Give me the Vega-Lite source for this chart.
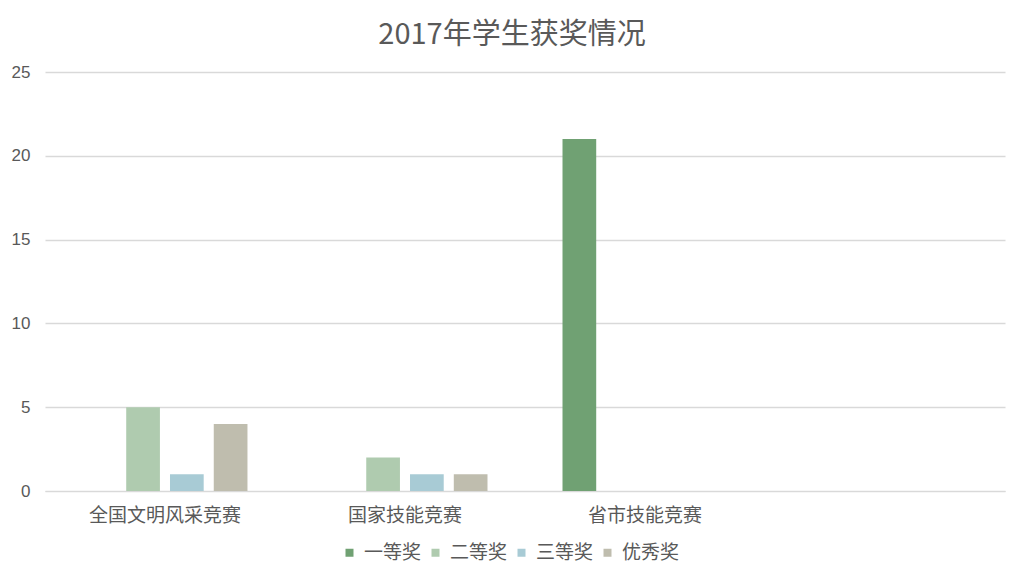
{
  "$schema": "https://vega.github.io/schema/vega-lite/v6.json",
  "width": 960,
  "height": 419,
  "autosize": {"type": "none"},
  "padding": {"left": 45, "top": 72, "right": 19, "bottom": 86},
  "background": "white",
  "title": {
    "text": "2017年学生获奖情况",
    "font": "Noto Sans CJK SC",
    "fontSize": 29,
    "fontWeight": "normal",
    "color": "#595959",
    "anchor": "middle",
    "dx": -13,
    "offset": 13
  },
  "data": {
    "values": [
      {"category": "全国文明风采竞赛", "award": "一等奖", "count": 0},
      {"category": "全国文明风采竞赛", "award": "二等奖", "count": 5},
      {"category": "全国文明风采竞赛", "award": "三等奖", "count": 1},
      {"category": "全国文明风采竞赛", "award": "优秀奖", "count": 4},
      {"category": "国家技能竞赛", "award": "一等奖", "count": 0},
      {"category": "国家技能竞赛", "award": "二等奖", "count": 2},
      {"category": "国家技能竞赛", "award": "三等奖", "count": 1},
      {"category": "国家技能竞赛", "award": "优秀奖", "count": 1},
      {"category": "省市技能竞赛", "award": "一等奖", "count": 21},
      {"category": "省市技能竞赛", "award": "二等奖", "count": 0},
      {"category": "省市技能竞赛", "award": "三等奖", "count": 0},
      {"category": "省市技能竞赛", "award": "优秀奖", "count": 0}
    ]
  },
  "mark": {"type": "bar"},
  "encoding": {
    "x": {
      "field": "category",
      "type": "nominal",
      "sort": null,
      "scale": {
        "domain": ["全国文明风采竞赛", "国家技能竞赛", "省市技能竞赛", " "],
        "paddingInner": 0.3125,
        "paddingOuter": 0.156
      },
      "axis": {
        "title": null,
        "labelAngle": 0,
        "ticks": false,
        "domainColor": "#d9d9d9",
        "labelFont": "Noto Sans CJK SC",
        "labelFontSize": 19,
        "labelColor": "#595959",
        "labelPadding": 15
      }
    },
    "xOffset": {
      "field": "award",
      "type": "nominal",
      "sort": ["一等奖", "二等奖", "三等奖", "优秀奖"],
      "scale": {"paddingInner": 0.23, "paddingOuter": 0}
    },
    "y": {
      "field": "count",
      "type": "quantitative",
      "scale": {"domain": [0, 25], "nice": false},
      "axis": {
        "title": null,
        "values": [0, 5, 10, 15, 20, 25],
        "domain": false,
        "ticks": false,
        "gridColor": "#d9d9d9",
        "gridWidth": 1.3,
        "labelFont": "Liberation Sans",
        "labelFontSize": 17,
        "labelColor": "#595959",
        "labelPadding": 15
      }
    },
    "color": {
      "field": "award",
      "type": "nominal",
      "sort": ["一等奖", "二等奖", "三等奖", "优秀奖"],
      "scale": {
        "domain": ["一等奖", "二等奖", "三等奖", "优秀奖"],
        "range": ["#70a173", "#afcbaf", "#a8cbd5", "#bfbdae"]
      },
      "legend": {
        "title": null,
        "orient": "none",
        "legendX": 295,
        "legendY": 471,
        "direction": "horizontal",
        "symbolType": "square",
        "symbolSize": 64,
        "symbolStrokeWidth": 0,
        "labelFont": "Noto Sans CJK SC",
        "labelFontSize": 19,
        "labelColor": "#595959",
        "labelOffset": 5,
        "columnPadding": 4
      }
    }
  },
  "config": {
    "view": {"stroke": null}
  }
}
